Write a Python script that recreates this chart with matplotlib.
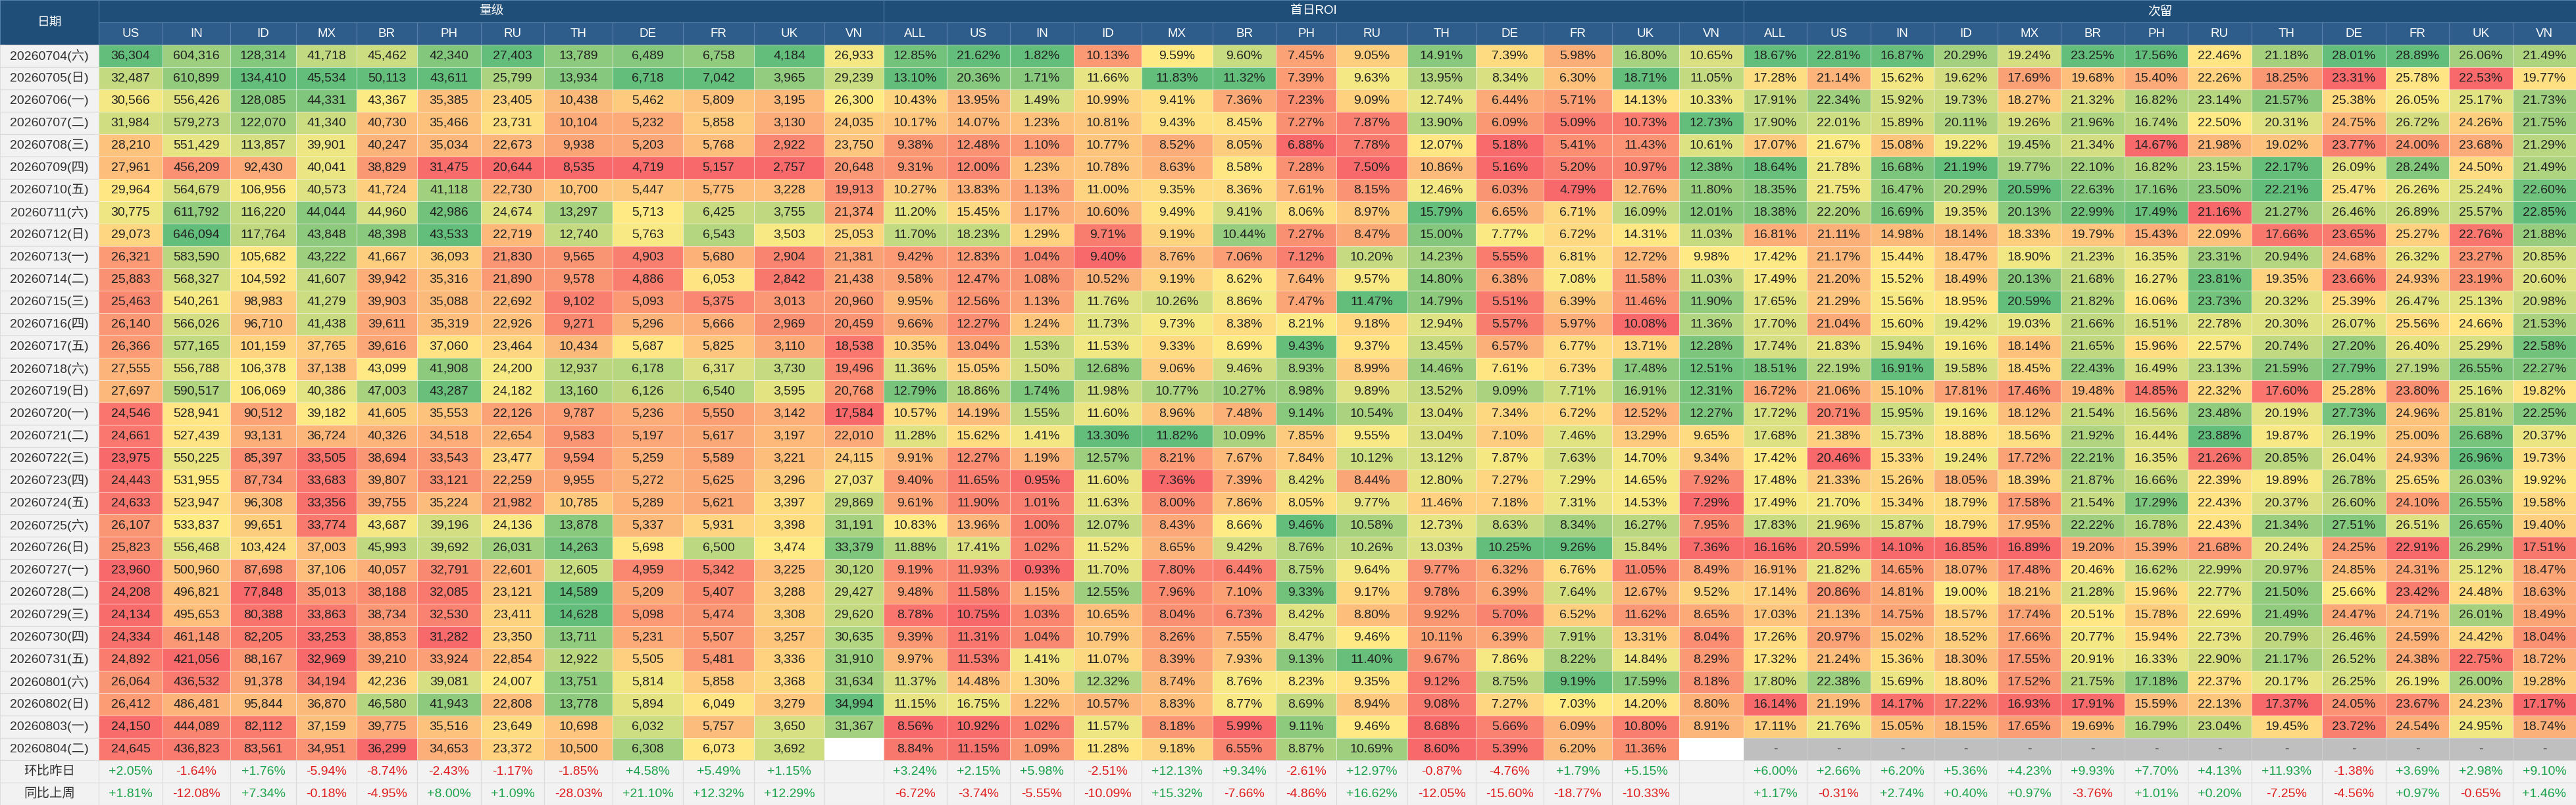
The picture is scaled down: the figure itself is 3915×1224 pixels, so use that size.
import matplotlib
matplotlib.use('Agg')
import matplotlib.pyplot as plt
from matplotlib.colors import LinearSegmentedColormap, Normalize
from matplotlib.patches import Rectangle
import numpy as np

# ---------------- data ----------------
dates = ['20260704(六)', '20260705(日)', '20260706(一)', '20260707(二)', '20260708(三)', '20260709(四)',
         '20260710(五)', '20260711(六)', '20260712(日)', '20260713(一)', '20260714(二)', '20260715(三)',
         '20260716(四)', '20260717(五)', '20260718(六)', '20260719(日)', '20260720(一)', '20260721(二)',
         '20260722(三)', '20260723(四)', '20260724(五)', '20260725(六)', '20260726(日)', '20260727(一)',
         '20260728(二)', '20260729(三)', '20260730(四)', '20260731(五)', '20260801(六)', '20260802(日)',
         '20260803(一)', '20260804(二)']

vol_countries = ['US', 'IN', 'ID', 'MX', 'BR', 'PH', 'RU', 'TH', 'DE', 'FR', 'UK', 'VN']
rate_countries = ['ALL', 'US', 'IN', 'ID', 'MX', 'BR', 'PH', 'RU', 'TH', 'DE', 'FR', 'UK', 'VN']
group_titles = ['量级', '首日ROI', '次留']
footer_labels = ['环比昨日', '同比上周']

volume = [
    [36304, 604316, 128314, 41718, 45462, 42340, 27403, 13789, 6489, 6758, 4184, 26933],
    [32487, 610899, 134410, 45534, 50113, 43611, 25799, 13934, 6718, 7042, 3965, 29239],
    [30566, 556426, 128085, 44331, 43367, 35385, 23405, 10438, 5462, 5809, 3195, 26300],
    [31984, 579273, 122070, 41340, 40730, 35466, 23731, 10104, 5232, 5858, 3130, 24035],
    [28210, 551429, 113857, 39901, 40247, 35034, 22673, 9938, 5203, 5768, 2922, 23750],
    [27961, 456209, 92430, 40041, 38829, 31475, 20644, 8535, 4719, 5157, 2757, 20648],
    [29964, 564679, 106956, 40573, 41724, 41118, 22730, 10700, 5447, 5775, 3228, 19913],
    [30775, 611792, 116220, 44044, 44960, 42986, 24674, 13297, 5713, 6425, 3755, 21374],
    [29073, 646094, 117764, 43848, 48398, 43533, 22719, 12740, 5763, 6543, 3503, 25053],
    [26321, 583590, 105682, 43222, 41667, 36093, 21830, 9565, 4903, 5680, 2904, 21381],
    [25883, 568327, 104592, 41607, 39942, 35316, 21890, 9578, 4886, 6053, 2842, 21438],
    [25463, 540261, 98983, 41279, 39903, 35088, 22692, 9102, 5093, 5375, 3013, 20960],
    [26140, 566026, 96710, 41438, 39611, 35319, 22926, 9271, 5296, 5666, 2969, 20459],
    [26366, 577165, 101159, 37765, 39616, 37060, 23464, 10434, 5687, 5825, 3110, 18538],
    [27555, 556788, 106378, 37138, 43099, 41908, 24200, 12937, 6178, 6317, 3730, 19496],
    [27697, 590517, 106069, 40386, 47003, 43287, 24182, 13160, 6126, 6540, 3595, 20768],
    [24546, 528941, 90512, 39182, 41605, 35553, 22126, 9787, 5236, 5550, 3142, 17584],
    [24661, 527439, 93131, 36724, 40326, 34518, 22654, 9583, 5197, 5617, 3197, 22010],
    [23975, 550225, 85397, 33505, 38694, 33543, 23477, 9594, 5259, 5589, 3221, 24115],
    [24443, 531955, 87734, 33683, 39807, 33121, 22259, 9955, 5272, 5625, 3296, 27037],
    [24633, 523947, 96308, 33356, 39755, 35224, 21982, 10785, 5289, 5621, 3397, 29869],
    [26107, 533837, 99651, 33774, 43687, 39196, 24136, 13878, 5337, 5931, 3398, 31191],
    [25823, 556468, 103424, 37003, 45993, 39692, 26031, 14263, 5698, 6500, 3474, 33379],
    [23960, 500960, 87698, 37106, 40057, 32791, 22601, 12605, 4959, 5342, 3225, 30120],
    [24208, 496821, 77848, 35013, 38188, 32085, 23121, 14589, 5209, 5407, 3288, 29427],
    [24134, 495653, 80388, 33863, 38734, 32530, 23411, 14628, 5098, 5474, 3308, 29620],
    [24334, 461148, 82205, 33253, 38853, 31282, 23350, 13711, 5231, 5507, 3257, 30635],
    [24892, 421056, 88167, 32969, 39210, 33924, 22854, 12922, 5505, 5481, 3336, 31910],
    [26064, 436532, 91378, 34194, 42236, 39081, 24007, 13751, 5814, 5858, 3368, 31634],
    [26412, 486481, 95844, 36870, 46580, 41943, 22808, 13778, 5894, 6049, 3279, 34994],
    [24150, 444089, 82112, 37159, 39775, 35516, 23649, 10698, 6032, 5757, 3650, 31367],
    [24645, 436823, 83561, 34951, 36299, 34653, 23372, 10500, 6308, 6073, 3692, None],
]

roi = [
    [12.85, 21.62, 1.82, 10.13, 9.59, 9.60, 7.45, 9.05, 14.91, 7.39, 5.98, 16.80, 10.65],
    [13.10, 20.36, 1.71, 11.66, 11.83, 11.32, 7.39, 9.63, 13.95, 8.34, 6.30, 18.71, 11.05],
    [10.43, 13.95, 1.49, 10.99, 9.41, 7.36, 7.23, 9.09, 12.74, 6.44, 5.71, 14.13, 10.33],
    [10.17, 14.07, 1.23, 10.81, 9.43, 8.45, 7.27, 7.87, 13.90, 6.09, 5.09, 10.73, 12.73],
    [9.38, 12.48, 1.10, 10.77, 8.52, 8.05, 6.88, 7.78, 12.07, 5.18, 5.41, 11.43, 10.61],
    [9.31, 12.00, 1.23, 10.78, 8.63, 8.58, 7.28, 7.50, 10.86, 5.16, 5.20, 10.97, 12.38],
    [10.27, 13.83, 1.13, 11.00, 9.35, 8.36, 7.61, 8.15, 12.46, 6.03, 4.79, 12.76, 11.80],
    [11.20, 15.45, 1.17, 10.60, 9.49, 9.41, 8.06, 8.97, 15.79, 6.65, 6.71, 16.09, 12.01],
    [11.70, 18.23, 1.29, 9.71, 9.19, 10.44, 7.27, 8.47, 15.00, 7.77, 6.72, 14.31, 11.03],
    [9.42, 12.83, 1.04, 9.40, 8.76, 7.06, 7.12, 10.20, 14.23, 5.55, 6.81, 12.72, 9.98],
    [9.58, 12.47, 1.08, 10.52, 9.19, 8.62, 7.64, 9.57, 14.80, 6.38, 7.08, 11.58, 11.03],
    [9.95, 12.56, 1.13, 11.76, 10.26, 8.86, 7.47, 11.47, 14.79, 5.51, 6.39, 11.46, 11.90],
    [9.66, 12.27, 1.24, 11.73, 9.73, 8.38, 8.21, 9.18, 12.94, 5.57, 5.97, 10.08, 11.36],
    [10.35, 13.04, 1.53, 11.53, 9.33, 8.69, 9.43, 9.37, 13.45, 6.57, 6.77, 13.71, 12.28],
    [11.36, 15.05, 1.50, 12.68, 9.06, 9.46, 8.93, 8.99, 14.46, 7.61, 6.73, 17.48, 12.51],
    [12.79, 18.86, 1.74, 11.98, 10.77, 10.27, 8.98, 9.89, 13.52, 9.09, 7.71, 16.91, 12.31],
    [10.57, 14.19, 1.55, 11.60, 8.96, 7.48, 9.14, 10.54, 13.04, 7.34, 6.72, 12.52, 12.27],
    [11.28, 15.62, 1.41, 13.30, 11.82, 10.09, 7.85, 9.55, 13.04, 7.10, 7.46, 13.29, 9.65],
    [9.91, 12.27, 1.19, 12.57, 8.21, 7.67, 7.84, 10.12, 13.12, 7.87, 7.63, 14.70, 9.34],
    [9.40, 11.65, 0.95, 11.60, 7.36, 7.39, 8.42, 8.44, 12.80, 7.27, 7.29, 14.65, 7.92],
    [9.61, 11.90, 1.01, 11.63, 8.00, 7.86, 8.05, 9.77, 11.46, 7.18, 7.31, 14.53, 7.29],
    [10.83, 13.96, 1.00, 12.07, 8.43, 8.66, 9.46, 10.58, 12.73, 8.63, 8.34, 16.27, 7.95],
    [11.88, 17.41, 1.02, 11.52, 8.65, 9.42, 8.76, 10.26, 13.03, 10.25, 9.26, 15.84, 7.36],
    [9.19, 11.93, 0.93, 11.70, 7.80, 6.44, 8.75, 9.64, 9.77, 6.32, 6.76, 11.05, 8.49],
    [9.48, 11.58, 1.15, 12.55, 7.96, 7.10, 9.33, 9.17, 9.78, 6.39, 7.64, 12.67, 9.52],
    [8.78, 10.75, 1.03, 10.65, 8.04, 6.73, 8.42, 8.80, 9.92, 5.70, 6.52, 11.62, 8.65],
    [9.39, 11.31, 1.04, 10.79, 8.26, 7.55, 8.47, 9.46, 10.11, 6.39, 7.91, 13.31, 8.04],
    [9.97, 11.53, 1.41, 11.07, 8.39, 7.93, 9.13, 11.40, 9.67, 7.86, 8.22, 14.84, 8.29],
    [11.37, 14.48, 1.30, 12.32, 8.74, 8.76, 8.23, 9.35, 9.12, 8.75, 9.19, 17.59, 8.18],
    [11.15, 16.75, 1.22, 10.57, 8.83, 8.77, 8.69, 8.94, 9.08, 7.27, 7.03, 14.20, 8.80],
    [8.56, 10.92, 1.02, 11.57, 8.18, 5.99, 9.11, 9.46, 8.68, 5.66, 6.09, 10.80, 8.91],
    [8.84, 11.15, 1.09, 11.28, 9.18, 6.55, 8.87, 10.69, 8.60, 5.39, 6.20, 11.36, None],
]

retention = [
    [18.67, 22.81, 16.87, 20.29, 19.24, 23.25, 17.56, 22.46, 21.18, 28.01, 28.89, 26.06, 21.49],
    [17.28, 21.14, 15.62, 19.62, 17.69, 19.68, 15.40, 22.26, 18.25, 23.31, 25.78, 22.53, 19.77],
    [17.91, 22.34, 15.92, 19.73, 18.27, 21.32, 16.82, 23.14, 21.57, 25.38, 26.05, 25.17, 21.73],
    [17.90, 22.01, 15.89, 20.11, 19.26, 21.96, 16.74, 22.50, 20.31, 24.75, 26.72, 24.26, 21.75],
    [17.07, 21.67, 15.08, 19.22, 19.45, 21.34, 14.67, 21.98, 19.02, 23.77, 24.00, 23.68, 21.29],
    [18.64, 21.78, 16.68, 21.19, 19.77, 22.10, 16.82, 23.15, 22.17, 26.09, 28.24, 24.50, 21.49],
    [18.35, 21.75, 16.47, 20.29, 20.59, 22.63, 17.16, 23.50, 22.21, 25.47, 26.26, 25.24, 22.60],
    [18.38, 22.20, 16.69, 19.35, 20.13, 22.99, 17.49, 21.16, 21.27, 26.46, 26.89, 25.57, 22.85],
    [16.81, 21.11, 14.98, 18.14, 18.33, 19.79, 15.43, 22.09, 17.66, 23.65, 25.27, 22.76, 21.88],
    [17.42, 21.17, 15.44, 18.47, 18.90, 21.23, 16.35, 23.31, 20.94, 24.68, 26.32, 23.27, 20.85],
    [17.49, 21.20, 15.52, 18.49, 20.13, 21.68, 16.27, 23.81, 19.35, 23.66, 24.93, 23.19, 20.60],
    [17.65, 21.29, 15.56, 18.95, 20.59, 21.82, 16.06, 23.73, 20.32, 25.39, 26.47, 25.13, 20.98],
    [17.70, 21.04, 15.60, 19.42, 19.03, 21.66, 16.51, 22.78, 20.30, 26.07, 25.56, 24.66, 21.53],
    [17.74, 21.83, 15.94, 19.16, 18.14, 21.65, 15.96, 22.57, 20.74, 27.20, 26.40, 25.29, 22.58],
    [18.51, 22.19, 16.91, 19.58, 18.45, 22.43, 16.49, 23.13, 21.59, 27.79, 27.19, 26.55, 22.27],
    [16.72, 21.06, 15.10, 17.81, 17.46, 19.48, 14.85, 22.32, 17.60, 25.28, 23.80, 25.16, 19.82],
    [17.72, 20.71, 15.95, 19.16, 18.12, 21.54, 16.56, 23.48, 20.19, 27.73, 24.96, 25.81, 22.25],
    [17.68, 21.38, 15.73, 18.88, 18.56, 21.92, 16.44, 23.88, 19.87, 26.19, 25.00, 26.68, 20.37],
    [17.42, 20.46, 15.33, 19.24, 17.72, 22.21, 16.35, 21.26, 20.85, 26.04, 24.93, 26.96, 19.73],
    [17.48, 21.33, 15.26, 18.05, 18.39, 21.87, 16.66, 22.39, 19.89, 26.78, 25.65, 26.03, 19.92],
    [17.49, 21.70, 15.34, 18.79, 17.58, 21.54, 17.29, 22.43, 20.37, 26.60, 24.10, 26.55, 19.58],
    [17.83, 21.96, 15.87, 18.79, 17.95, 22.22, 16.78, 22.43, 21.34, 27.51, 26.51, 26.65, 19.40],
    [16.16, 20.59, 14.10, 16.85, 16.89, 19.20, 15.39, 21.68, 20.24, 24.25, 22.91, 26.29, 17.51],
    [16.91, 21.82, 14.65, 18.07, 17.48, 20.46, 16.62, 22.99, 20.97, 24.85, 24.31, 25.12, 18.47],
    [17.14, 20.86, 14.81, 19.00, 18.21, 21.28, 15.96, 22.77, 21.50, 25.66, 23.42, 24.48, 18.63],
    [17.03, 21.13, 14.75, 18.57, 17.74, 20.51, 15.78, 22.69, 21.49, 24.47, 24.71, 26.01, 18.49],
    [17.26, 20.97, 15.02, 18.52, 17.66, 20.77, 15.94, 22.73, 20.79, 26.46, 24.59, 24.42, 18.04],
    [17.32, 21.24, 15.36, 18.30, 17.55, 20.91, 16.33, 22.90, 21.17, 26.52, 24.38, 22.75, 18.72],
    [17.80, 22.38, 15.69, 18.80, 17.52, 21.75, 17.18, 22.37, 20.17, 26.25, 26.19, 26.00, 19.28],
    [16.14, 21.19, 14.17, 17.22, 16.93, 17.91, 15.59, 22.13, 17.37, 24.05, 23.67, 24.23, 17.17],
    [17.11, 21.76, 15.05, 18.15, 17.65, 19.69, 16.79, 23.04, 19.45, 23.72, 24.54, 24.95, 18.74],
    [None] * 13,
]

vol_dod = [2.05, -1.64, 1.76, -5.94, -8.74, -2.43, -1.17, -1.85, 4.58, 5.49, 1.15, None]
vol_wow = [1.81, -12.08, 7.34, -0.18, -4.95, 8.00, 1.09, -28.03, 21.10, 12.32, 12.29, None]
roi_dod = [3.24, 2.15, 5.98, -2.51, 12.13, 9.34, -2.61, 12.97, -0.87, -4.76, 1.79, 5.15, None]
roi_wow = [-6.72, -3.74, -5.55, -10.09, 15.32, -7.66, -4.86, 16.62, -12.05, -15.60, -18.77, -10.33, None]
ret_dod = [6.00, 2.66, 6.20, 5.36, 4.23, 9.93, 7.70, 4.13, 11.93, -1.38, 3.69, 2.98, 9.10]
ret_wow = [1.17, -0.31, 2.74, 0.40, 0.97, -3.76, 1.01, 0.20, -7.25, -4.56, 0.97, -0.65, 1.46]

# ---------------- layout / style ----------------
DATE_W = 150
vol_w = [97, 103, 100, 92, 92, 97, 96, 104, 107, 108, 107, 90]
roi_w = [96, 96, 97, 103, 108, 96, 92, 108, 104, 103, 104, 102, 98]
ret_w = [96, 97, 96, 97, 96, 97, 96, 97, 107, 97, 96, 97, 96]

HDR1 = '#1f4e79'
HDR2 = '#2e5d8c'
HDR_LINE = '#5580ab'
LIGHT_BG = '#f2f2f2'
GRID = '#e2e2e2'
TXT = '#222222'
POS = '#1aa34a'
NEG = '#e01e1e'
cmap = LinearSegmentedColormap.from_list('ryg', ['#f8696b', '#ffeb84', '#63be7b'])

FONT = ['Liberation Sans', 'Noto Sans CJK SC', 'DejaVu Sans']
FS = 14

W_TOTAL = DATE_W + sum(vol_w) + sum(roi_w) + sum(ret_w)
n_rows = len(dates)
N_TOTAL = 2 + n_rows + 2

fig = plt.figure(figsize=(39.15, 12.24), dpi=100)
ax = fig.add_axes([0, 0, 1, 1])
ax.set_xlim(0, W_TOTAL)
ax.set_ylim(N_TOTAL, 0)
ax.axis('off')


def cell(x, y, w, h, fc, ec=GRID, lw=0.8):
    ax.add_patch(Rectangle((x, y), w, h, facecolor=fc, edgecolor=ec, linewidth=lw))


def txt(x, y, s, color=TXT, fs=FS, **kw):
    ax.text(x, y, s, ha='center', va='center', color=color, fontsize=fs, family=FONT, **kw)


# date column
cell(0, 0, DATE_W, 2, HDR1, ec=HDR_LINE)
txt(DATE_W / 2, 1, '日期', color='white', fs=13.5)
for i, d in enumerate(dates):
    cell(0, 2 + i, DATE_W, 1, LIGHT_BG, ec='#dcdcdc')
    txt(DATE_W / 2, 2.5 + i, d, color='#333333')
for k, lab in enumerate(footer_labels):
    cell(0, 2 + n_rows + k, DATE_W, 1, LIGHT_BG, ec='#dcdcdc')
    txt(DATE_W / 2, 2.5 + n_rows + k, lab, color='#333333')

sections = [
    (vol_countries, vol_w, volume, vol_dod, vol_wow, lambda v: f'{v:,.0f}', False),
    (rate_countries, roi_w, roi, roi_dod, roi_wow, lambda v: f'{v:.2f}%', False),
    (rate_countries, ret_w, retention, ret_dod, ret_wow, lambda v: f'{v:.2f}%', True),
]

x0 = DATE_W
for (cols, widths, table, dod, wow, fmt, gray_missing), title in zip(sections, group_titles):
    sec_w = sum(widths)
    cell(x0, 0, sec_w, 1, HDR1, ec=HDR_LINE)
    txt(x0 + sec_w / 2, 0.5, title, color='white', fs=13.5)
    x = x0
    for j, (name, w) in enumerate(zip(cols, widths)):
        cell(x, 1, w, 1, HDR2, ec=HDR_LINE)
        txt(x + w / 2, 1.5, name, color='white', fs=13.5)
        col_vals = np.array([r[j] for r in table if r[j] is not None], dtype=float)
        if len(col_vals):
            norm = Normalize(col_vals.min(), col_vals.max())
        for i, row in enumerate(table):
            v = row[j]
            if v is None:
                if gray_missing:
                    cell(x, 2 + i, w, 1, '#bfbfbf', ec='#d0d0d0')
                    txt(x + w / 2, 2.5 + i, '-', color='#444444')
                else:
                    cell(x, 2 + i, w, 1, 'white', ec='white')
                continue
            cell(x, 2 + i, w, 1, cmap(norm(v)), ec=(1, 1, 1, 0.35))
            txt(x + w / 2, 2.5 + i, fmt(v))
        for k, arr in enumerate([dod, wow]):
            v = arr[j]
            cell(x, 2 + n_rows + k, w, 1, LIGHT_BG, ec='#dcdcdc')
            if v is not None:
                txt(x + w / 2, 2.5 + n_rows + k, f'{v:+.2f}%', color=POS if v >= 0 else NEG)
        x += w
    x0 += sec_w

fig.savefig('out.png', dpi=100)
